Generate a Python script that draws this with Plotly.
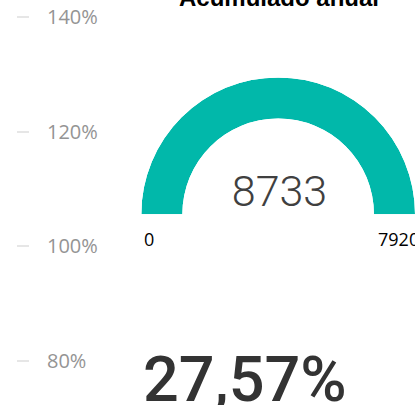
import plotly.graph_objects as go

# ---- data ----
eje_ticks = [0.8, 1.0, 1.2, 1.4]
eje_rango = [0.7225, 1.4302]
titulo = "Acumulado anual"
gauge_valor = 8733
gauge_min = 0
gauge_max = 7920
porcentaje = 0.2757

W, H = 415, 405


def px(x):
    return x / W


def py(y):
    return (H - y) / H


fig = go.Figure()

# left axis (remnant of neighbouring chart)
fig.add_trace(go.Scatter(x=[None], y=[None], xaxis="x", yaxis="y",
                         showlegend=False, hoverinfo="skip"))

# gauge drawn as a polar bar
frac = min(max((gauge_valor - gauge_min) / (gauge_max - gauge_min), 0), 1)
ancho = 180 * frac
fig.add_trace(go.Barpolar(
    r=[1], theta=[180 - ancho / 2], width=[ancho], base=[0],
    marker=dict(color="#01B8AA", line=dict(width=0)),
    subplot="polar", showlegend=False, hoverinfo="skip"))

# gauge callout value
fig.add_trace(go.Indicator(
    mode="number", value=gauge_valor,
    number=dict(valueformat="d",
                font=dict(family="Roboto", size=43, color="#404040", weight=300)),
    domain=dict(x=[px(149.5), px(409.5)], y=[py(221), py(160)])))

texto_pct = f"{porcentaje * 100:.2f}".replace(".", ",") + "%"

fig.update_layout(
    width=W, height=H,
    margin=dict(l=0, r=0, t=0, b=0),
    paper_bgcolor="white", plot_bgcolor="white",
    separators=",.",
    showlegend=False,
    xaxis=dict(domain=[0, px(16)], visible=False, range=[0, 1], fixedrange=True),
    yaxis=dict(side="right", anchor="x", range=eje_rango, tickvals=eje_ticks,
               tickformat=".0%", showgrid=False, zeroline=False, showline=False,
               ticks="outside", ticklen=12, tickwidth=2, tickcolor="#e6e6e6",
               ticklabelstandoff=14,
               tickfont=dict(family="Segoe UI, Open Sans", size=20, color="#949494"),
               fixedrange=True),
    polar=dict(domain=dict(x=[px(141.3), 1], y=[py(215), py(76.7)]),
               sector=[0, 180], hole=0.70, bgcolor="rgba(0,0,0,0)",
               radialaxis=dict(visible=False, range=[0, 1]),
               angularaxis=dict(visible=False)),
    annotations=[
        dict(text="<b>" + titulo + "</b>", x=px(279), y=py(13), xref="paper", yref="paper",
             xanchor="center", yanchor="bottom", showarrow=False,
             font=dict(family="Liberation Sans, Arial", size=24, color="black")),
        dict(text=str(gauge_min), x=px(142), y=py(239), xref="paper", yref="paper",
             xanchor="left", yanchor="middle", showarrow=False,
             font=dict(family="Segoe UI, Open Sans", size=18, color="black")),
        dict(text=str(gauge_max), x=px(421), y=py(239), xref="paper", yref="paper",
             xanchor="right", yanchor="middle", showarrow=False,
             font=dict(family="Segoe UI, Open Sans", size=18, color="black")),
        dict(text=texto_pct, x=px(141), y=py(341), xref="paper", yref="paper",
             xanchor="left", yanchor="top", showarrow=False,
             font=dict(family="Roboto", size=63, color="#333333", weight=500)),
    ],
)

fig.write_html("out.html", config={"displayModeBar": False},
               post_script="document.body.style.margin='0';")
